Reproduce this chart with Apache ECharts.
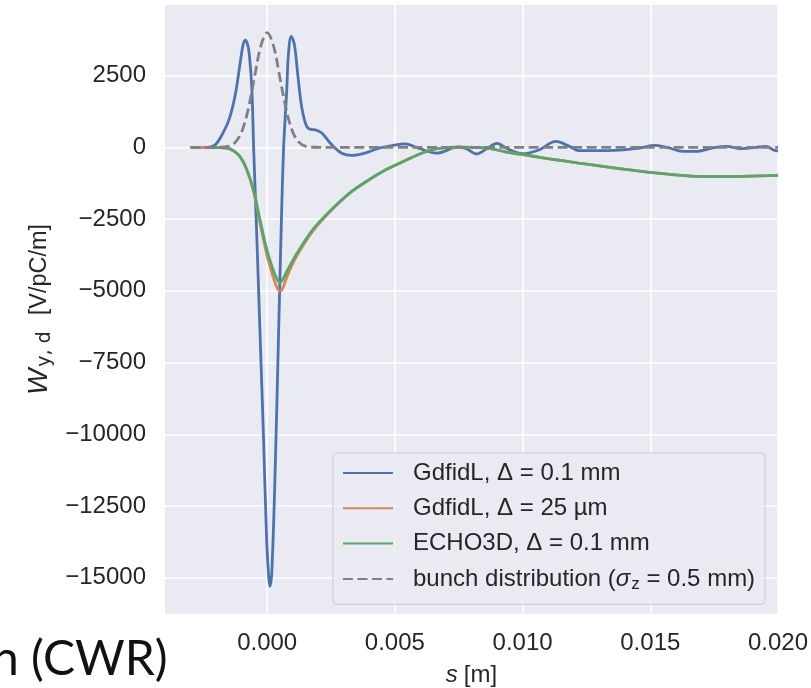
<!DOCTYPE html>
<html>
<head>
<meta charset="utf-8">
<script src="https://cdn.jsdelivr.net/npm/echarts@6/dist/echarts.min.js"></script>
<style>
  html, body { margin: 0; padding: 0; background: #fff; }
  #chart { width: 811px; height: 688px; }
</style>
</head>
<body>
<div id="chart"></div>
<script>
// tick values
const xTicks = [0, 0.005, 0.010, 0.015, 0.020];
const yTicks = [-15000, -12500, -10000, -7500, -5000, -2500, 0, 2500];

// GdfidL, 0.1 mm
const sBlue = [-0.003, -0.0025, -0.0022, -0.002, -0.00177, -0.0015, -0.00125, -0.00105, -0.00095, -0.00086,
  -0.00077, -0.0007, -0.0006, -0.00053, -0.0004, -0.00027, -0.00014, -0.00002, 0.00005, 0.0001,
  0.00018, 0.00031, 0.00044, 0.00057, 0.00065, 0.00077, 0.00083, 0.00094, 0.00107, 0.0012,
  0.00136, 0.00155, 0.00175, 0.00188, 0.00214, 0.00253, 0.00292, 0.00331, 0.00383, 0.0044,
  0.00493, 0.0054, 0.00585, 0.00663, 0.00728, 0.00754, 0.0078, 0.0082, 0.0086, 0.009,
  0.0094, 0.01, 0.01066, 0.0113, 0.01184, 0.0122, 0.01314, 0.01405, 0.01457, 0.01522,
  0.01574, 0.01626, 0.01678, 0.01743, 0.01796, 0.01861, 0.01913, 0.01952, 0.0199, 0.020];
const wBlue = [0, 0, 20, 120, 440, 950, 1830, 2985, 3550, 3740,
  3600, 3250, 2060, 0, -3264, -6736, -10208, -13700, -14836, -15300,
  -14830, -11360, -6736, -2107, 100, 2060, 3220, 3870, 3565, 2520,
  1365, 730, 620, 615, 500, 90, -200, -280, -200, -20,
  70, 125, 0, -200, -20, 20, -45, -230, -45, 140,
  -45, -220, -80, 210, 35, -115, -115, -80, -20, 70,
  -20, -140, -140, -20, 35, -45, 0, 35, -115, -120];

// GdfidL, 25 um
const sOrange = [-0.003, -0.0022, -0.0018, -0.00157, -0.0013, -0.00105, -0.0008, -0.00053, -0.00027, 0,
  0.00025, 0.0004, 0.0005, 0.0006, 0.0008, 0.00116, 0.0018, 0.00246, 0.00324, 0.0039,
  0.00454, 0.0052, 0.006, 0.0066, 0.0074, 0.0086, 0.00936, 0.0103, 0.0113, 0.0122,
  0.01314, 0.01444, 0.01548, 0.01678, 0.01809, 0.0199, 0.020];
const wOrange = [0, 0, -10, -20, -130, -340, -780, -1540, -2680, -3780,
  -4560, -4920, -5000, -4930, -4450, -3780, -2900, -2240, -1585, -1180,
  -833, -545, -220, -50, 10, -20, -160, -290, -430, -545,
  -660, -810, -915, -1007, -1018, -972, -970];

// ECHO3D, 0.1 mm
const sGreen = [-0.0022, -0.0018, -0.00157, -0.0013, -0.00105, -0.0008, -0.00053, -0.00027, 0,
  0.00025, 0.0004, 0.0005, 0.0006, 0.0008, 0.00116, 0.0018, 0.00246, 0.00324, 0.0039,
  0.00454, 0.0052, 0.006, 0.0066, 0.0074, 0.0086, 0.00936, 0.0103, 0.0113, 0.0122,
  0.01314, 0.01444, 0.01548, 0.01678, 0.01809, 0.0199, 0.020];
const wGreen = [0, -10, -20, -130, -330, -760, -1500, -2570, -3610,
  -4305, -4620, -4720, -4620, -4270, -3700, -2850, -2220, -1585, -1180,
  -833, -545, -220, -50, 10, -20, -160, -290, -430, -545,
  -660, -810, -915, -1007, -1018, -972, -970];

// bunch distribution
const sBunch = [-0.003, -0.002, -0.0015, -0.00125, -0.001, -0.00075, -0.0005, -0.00025, 0,
  0.00025, 0.0005, 0.00075, 0.001, 0.00125, 0.0015, 0.002, 0.003, 0.020];
const wBunch = [0, 5, 45, 175, 540, 1300, 2430, 3530, 4000,
  3530, 2430, 1300, 540, 175, 45, 5, 0, 0];

const names = ['GdfidL, Δ = 0.1 mm', 'GdfidL, Δ = 25 µm', 'ECHO3D, Δ = 0.1 mm', 'bunch distribution'];

const pairs = (s, w) => s.map((v, i) => [v, w[i]]);
const font = 'Liberation Sans';
const ink = '#262626';

const chart = echarts.init(document.getElementById('chart'));

const line = (name, s, w, color, type) => ({
  name,
  type: 'line',
  data: pairs(s, w),
  smooth: 0.35,
  symbol: 'none',
  lineStyle: { color, width: 2.8, type: type || 'solid' },
  itemStyle: { color }
});

chart.setOption({
  animation: false,
  backgroundColor: '#fff',
  grid: {
    left: 165, right: 33, top: 5, bottom: 74,
    outerBoundsMode: 'none',
    backgroundColor: '#EAEAF2', show: true, borderWidth: 0
  },
  xAxis: {
    type: 'value',
    min: -0.004,
    max: 0.020,
    name: '{i|s}{t|[m]}',
    nameLocation: 'middle',
    nameGap: 49,
    nameTextStyle: {
      rich: {
        i: { fontFamily: font, fontSize: 24, fontStyle: 'italic', color: ink, padding: [0, 6, 0, 0] },
        t: { fontFamily: font, fontSize: 24, color: ink }
      }
    },
    axisLine: { show: false },
    axisTick: { show: false, customValues: xTicks },
    axisLabel: {
      customValues: xTicks,
      formatter: v => v.toFixed(3),
      fontFamily: font, fontSize: 24, color: ink, margin: 17
    },
    splitLine: { show: true, lineStyle: { color: '#fff', width: 1.6 } }
  },
  yAxis: {
    type: 'value',
    min: -16265,
    max: 4965,
    name: '{w|W}{sub|y, d}{t|[V/pC/m]}',
    nameLocation: 'middle',
    nameRotate: 90,
    nameGap: 104,
    nameTextStyle: {
      rich: {
        w: { fontFamily: font, fontSize: 28, fontStyle: 'italic', color: ink },
        sub: { fontFamily: 'DejaVu Sans', fontSize: 19, color: ink, padding: [11, 16, 0, 2] },
        t: { fontFamily: font, fontSize: 23.5, color: ink }
      }
    },
    axisLine: { show: false },
    axisTick: { show: false, customValues: yTicks },
    axisLabel: {
      customValues: yTicks,
      formatter: v => (v < 0 ? '\u2212' + Math.abs(v) : String(v)),
      fontFamily: font, fontSize: 24, color: ink, margin: 19
    },
    splitLine: { show: true, lineStyle: { color: '#fff', width: 1.6 } }
  },
  legend: {
    orient: 'vertical',
    left: 333,
    top: 453,
    itemWidth: 50,
    itemHeight: 14,
    itemGap: 11.3,
    padding: [8, 10, 12, 9],
    backgroundColor: 'rgba(234,234,242,0.8)',
    borderColor: '#cccccc',
    borderWidth: 1,
    borderRadius: 4,
    itemStyle: { opacity: 0 },
    data: names,
    formatter: n => n === names[3]
      ? '{t|bunch distribution (}{s|σ}{sub|z}{t| = 0.5 mm)}'
      : '{t|' + n + '}',
    textStyle: {
      padding: [0, 0, 0, 15],
      rich: {
        t: { fontFamily: font, fontSize: 24, color: ink, lineHeight: 24 },
        s: { fontFamily: font, fontSize: 24, fontStyle: 'italic', color: ink, lineHeight: 24 },
        sub: { fontFamily: font, fontSize: 17, color: ink, padding: [10, 0, 0, 1] }
      }
    }
  },
  graphic: [{
    type: 'text',
    x: -8,
    y: 636,
    style: { text: 'n (CWR)', font: '48px Lato', fill: '#111' }
  }],
  series: [
    line(names[0], sBlue, wBlue, '#4C72B0'),
    line(names[1], sOrange, wOrange, '#DD8452'),
    line(names[2], sGreen, wGreen, '#55A868'),
    line(names[3], sBunch, wBunch, '#808080', [10, 4.5])
  ]
});
</script>
</body>
</html>
